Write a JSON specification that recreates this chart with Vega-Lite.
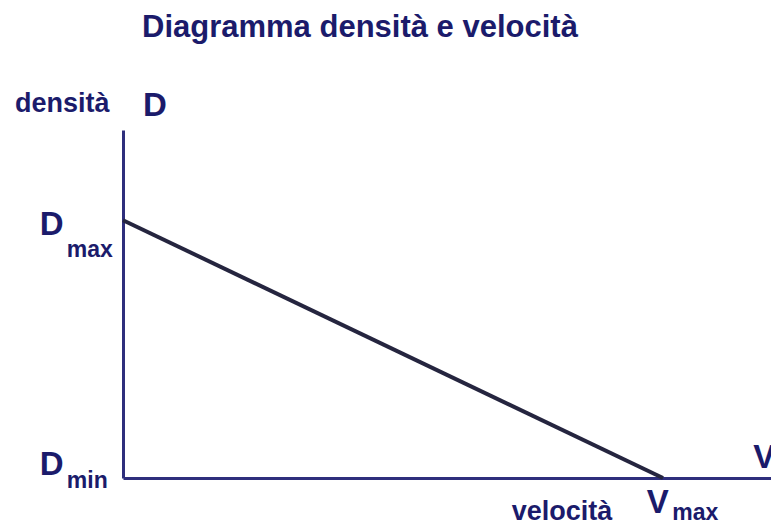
{
  "$schema": "https://vega.github.io/schema/vega-lite/v6.json",
  "width": 648,
  "height": 348,
  "autosize": {"type": "none"},
  "padding": {"left": 123, "top": 130, "right": 0, "bottom": 49},
  "background": "white",
  "config": {
    "view": {"stroke": null},
    "font": "Liberation Sans",
    "axis": {
      "domain": true,
      "domainColor": "#2e2e7c",
      "domainWidth": 3,
      "ticks": false,
      "labels": false,
      "grid": false,
      "title": null
    }
  },
  "title": {
    "text": "Diagramma densità e velocità",
    "anchor": "start",
    "frame": "group",
    "dx": 19,
    "dy": -42,
    "fontSize": 31,
    "fontWeight": "bold",
    "color": "#1b1b6b",
    "font": "Liberation Sans"
  },
  "datasets": {
    "curve": [
      {"velocita": 0, "densita": 100},
      {"velocita": 100, "densita": 0}
    ],
    "labels": [
      {"text": "densità", "role": "word", "velocita": -20.0, "densita": 142.0},
      {"text": "velocità", "role": "word", "velocita": 72.0, "densita": -16.3},
      {"text": "D", "role": "big", "velocita": 3.7, "densita": 140.4},
      {"text": "D", "role": "big", "velocita": -15.4, "densita": 94.3},
      {"text": "D", "role": "big", "velocita": -15.4, "densita": 1.2},
      {"text": "V", "role": "big", "velocita": 116.7, "densita": 3.9},
      {"text": "V", "role": "big", "velocita": 97.0, "densita": -13.6},
      {"text": "max", "role": "sub", "velocita": -10.4, "densita": 85.7},
      {"text": "min", "role": "sub", "velocita": -10.4, "densita": -3.9},
      {"text": "max", "role": "sub", "velocita": 101.7, "densita": -16.3}
    ]
  },
  "encoding": {
    "x": {"field": "velocita", "type": "quantitative", "scale": {"domain": [0, 120], "nice": false, "zero": false}, "axis": {"orient": "bottom"}},
    "y": {"field": "densita", "type": "quantitative", "scale": {"domain": [0, 135], "nice": false, "zero": false}, "axis": {"orient": "left"}}
  },
  "layer": [
    {
      "data": {"name": "curve"},
      "mark": {"type": "line", "color": "#25253f", "strokeWidth": 4, "clip": false}
    },
    {
      "data": {"name": "labels"},
      "transform": [{"filter": "datum.role === 'word'"}],
      "mark": {"type": "text", "align": "left", "baseline": "alphabetic", "fontSize": 27, "fontWeight": "bold", "color": "#1b1b6b"},
      "encoding": {"text": {"field": "text"}}
    },
    {
      "data": {"name": "labels"},
      "transform": [{"filter": "datum.role === 'big'"}],
      "mark": {"type": "text", "align": "left", "baseline": "alphabetic", "fontSize": 33, "fontWeight": "bold", "color": "#1b1b6b"},
      "encoding": {"text": {"field": "text"}}
    },
    {
      "data": {"name": "labels"},
      "transform": [{"filter": "datum.role === 'sub'"}],
      "mark": {"type": "text", "align": "left", "baseline": "alphabetic", "fontSize": 23, "fontWeight": "bold", "color": "#1b1b6b"},
      "encoding": {"text": {"field": "text"}}
    }
  ]
}
